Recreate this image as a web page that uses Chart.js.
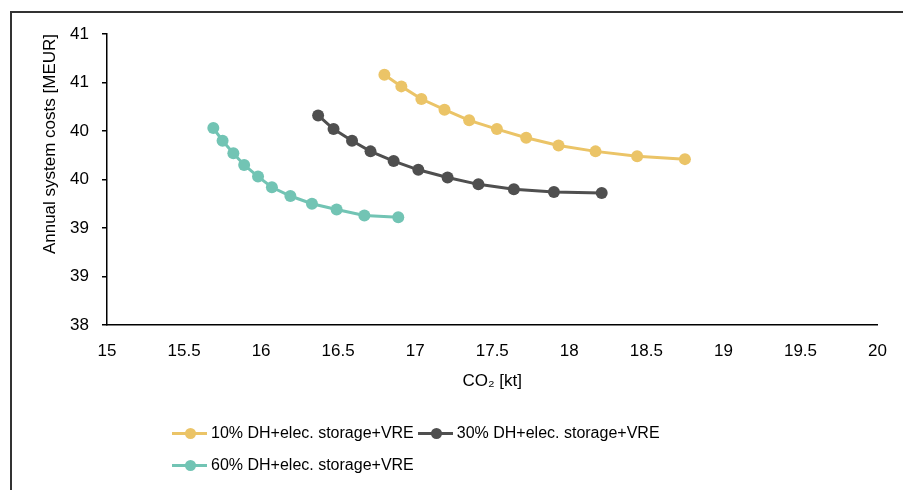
<!DOCTYPE html>
<html>
<head>
<meta charset="utf-8">
<script src="https://cdn.jsdelivr.net/npm/chart.js@4/dist/chart.umd.min.js"></script>
<style>
  html, body { margin: 0; padding: 0; background: #fff; }
  #wrap { position: relative; width: 903px; height: 490px; overflow: hidden; font-family: "Liberation Sans", Arial, sans-serif; }
  #frame { position: absolute; left: 10px; top: 11px; width: 1000px; height: 1000px; border-top: 2px solid #333; border-left: 2px solid #333; }
  #chart { position: absolute; left: 0; top: 0; }
  #legend { position: absolute; left: 172px; top: 423px; width: 520px; display: flex; flex-wrap: wrap; }
  .item { display: flex; align-items: center; height: 20px; margin: 0 4px 12px 0; font-size: 16px; color: #000; }
  .swatch { position: relative; width: 35px; height: 3px; margin-right: 4px; }
  .swatch i { position: absolute; left: 13px; top: -4px; width: 11px; height: 11px; border-radius: 50%; }
</style>
</head>
<body>
<div id="wrap">
  <div id="frame"></div>
  <canvas id="chart" width="903" height="490"></canvas>
  <div id="legend"></div>
</div>
<script>
const seriesNames = ["10% DH+elec. storage+VRE", "30% DH+elec. storage+VRE", "60% DH+elec. storage+VRE"];
const seriesColors = ["#ebc467", "#4f4f4f", "#72c4b4"];

const co2_10 = [16.80, 16.91, 17.04, 17.19, 17.35, 17.53, 17.72, 17.93, 18.17, 18.44, 18.75];
const cost_10 = [40.58, 40.46, 40.33, 40.22, 40.11, 40.02, 39.93, 39.85, 39.79, 39.74, 39.71];

const co2_30 = [16.37, 16.47, 16.59, 16.71, 16.86, 17.02, 17.21, 17.41, 17.64, 17.90, 18.21];
const cost_30 = [40.16, 40.02, 39.90, 39.79, 39.69, 39.60, 39.52, 39.45, 39.40, 39.37, 39.36];

const co2_60 = [15.69, 15.75, 15.82, 15.89, 15.98, 16.07, 16.19, 16.33, 16.49, 16.67, 16.89];
const cost_60 = [40.03, 39.90, 39.77, 39.65, 39.53, 39.42, 39.33, 39.25, 39.19, 39.13, 39.11];

// Axis labels as printed (the y ones are rounded to whole numbers in the original)
const xTickLabels = ["15", "15.5", "16", "16.5", "17", "17.5", "18", "18.5", "19", "19.5", "20"];
const yTickLabels = ["38", "39", "39", "40", "40", "41", "41"];

const xs = [co2_10, co2_30, co2_60];
const ys = [cost_10, cost_30, cost_60];

const datasets = seriesNames.map((name, i) => ({
  label: name,
  data: xs[i].map((x, j) => ({ x: x, y: ys[i][j] })),
  borderColor: seriesColors[i],
  backgroundColor: seriesColors[i],
  borderWidth: 3,
  pointRadius: 6,
  pointHoverRadius: 6,
  pointBorderWidth: 0,
  showLine: true,
  tension: 0
}));

Chart.defaults.font.family = '"Liberation Sans", Arial, sans-serif';
Chart.defaults.font.size = 17;
Chart.defaults.color = "#000";

const chart = new Chart(document.getElementById("chart"), {
  type: "scatter",
  data: { datasets },
  options: {
    responsive: false,
    animation: false,
    layout: { padding: { left: 0, right: 19, top: 34, bottom: 85 } },
    plugins: { legend: { display: false }, tooltip: { enabled: false } },
    scales: {
      x: {
        type: "linear",
        min: 15, max: 20,
        ticks: { stepSize: 0.5, padding: 16, maxRotation: 0, callback: (v, i) => xTickLabels[i] },
        grid: { display: false, drawTicks: false },
        border: { display: true, color: "#000", width: 1.5 },
        title: { display: true, text: "CO₂ [kt]", padding: { top: 0, bottom: 13 } },
        afterFit: s => { s.height = 80; }
      },
      y: {
        min: 38, max: 41,
        ticks: {
          stepSize: 0.5,
          padding: 13,
          callback: (v, i) => yTickLabels[i]
        },
        grid: { drawOnChartArea: false, drawTicks: true, tickLength: 5, color: "#000", lineWidth: 1.5 },
        border: { display: true, color: "#000", width: 1.5 },
        title: { display: true, text: "Annual system costs [MEUR]", align: "end", padding: { top: 40, bottom: 0 } },
        afterFit: s => { s.width = 107; }
      }
    }
  }
});

const legend = document.getElementById("legend");
chart.data.datasets.forEach(ds => {
  const item = document.createElement("div");
  item.className = "item";
  const sw = document.createElement("span");
  sw.className = "swatch";
  sw.style.background = ds.borderColor;
  const dot = document.createElement("i");
  dot.style.background = ds.borderColor;
  sw.appendChild(dot);
  item.appendChild(sw);
  item.appendChild(document.createTextNode(ds.label));
  legend.appendChild(item);
});
</script>
</body>
</html>
